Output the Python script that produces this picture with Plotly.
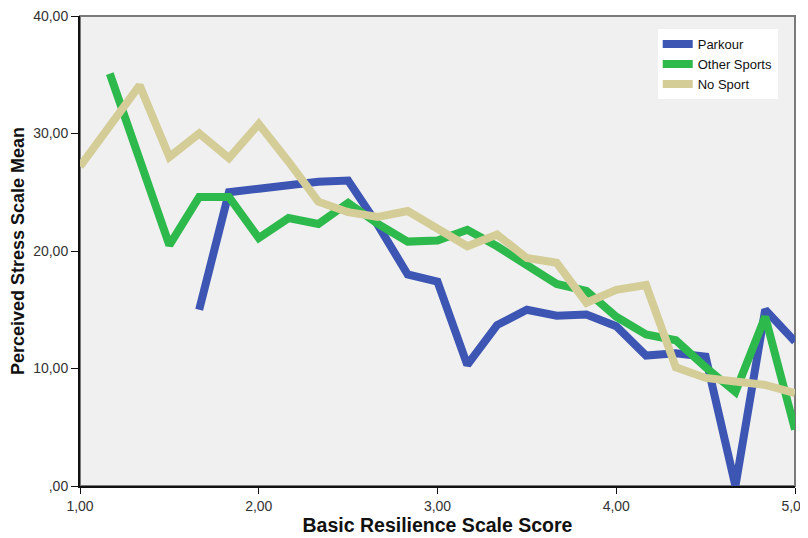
import plotly.graph_objects as go

# Basic Resilience Scale score (steps of 1/6)
brs_scores = [1.0, 1.1667, 1.3333, 1.5, 1.6667, 1.8333, 2.0, 2.1667, 2.3333, 2.5,
              2.6667, 2.8333, 3.0, 3.1667, 3.3333, 3.5, 3.6667, 3.8333, 4.0,
              4.1667, 4.3333, 4.5, 4.6667, 4.8333, 5.0]

parkour = [None, None, None, None, 15.0, 25.0, 25.3, 25.6, 25.9, 26.0,
           22.2, 18.0, 17.4, 10.3, 13.7, 15.0, 14.5, 14.6, 13.6,
           11.1, 11.3, 11.0, 0.0, 15.0, 12.3]

other_sports = [None, 35.1, 27.7, 20.5, 24.6, 24.6, 21.1, 22.8, 22.3, 24.1,
                22.3, 20.8, 20.9, 21.8, 20.4, 18.8, 17.2, 16.6, 14.4,
                12.9, 12.4, 10.1, 8.0, 14.4, 4.8]

no_sport = [27.2, 30.6, 34.1, 28.0, 30.0, 27.9, 30.8, 27.6, 24.2, 23.3,
            22.9, 23.4, 21.9, 20.4, 21.4, 19.4, 19.0, 15.6, 16.7,
            17.1, 10.1, 9.2, 8.9, 8.6, 7.9]

series_names = ["Parkour", "Other Sports", "No Sport"]
series_colors = ["#3D55B3", "#2DB94B", "#D5CD98"]

x_tick_vals = [1, 2, 3, 4, 5]
x_tick_text = ["1,00", "2,00", "3,00", "4,00", "5,00"]
y_tick_vals = [0, 10, 20, 30, 40]
y_tick_text = [",00", "10,00", "20,00", "30,00", "40,00"]

FONT = "Arial, 'Liberation Sans', sans-serif"

fig = go.Figure()
for name, vals, col in zip(series_names, [parkour, other_sports, no_sport], series_colors):
    fig.add_trace(go.Scatter(
        x=brs_scores, y=vals, mode="lines", name=name,
        line=dict(color=col, width=8), connectgaps=False,
    ))

# page body has an 8px margin, so the figure is sized/margined to compensate
fig.update_layout(
    width=800, height=530,
    margin=dict(l=72, r=13, t=8, b=52),
    paper_bgcolor="white",
    plot_bgcolor="#F0F0F0",
    font=dict(family=FONT, size=14, color="#222222"),
    showlegend=True,
    legend=dict(
        x=0.808, y=0.972, xanchor="left", yanchor="top",
        bgcolor="white", borderwidth=0,
        font=dict(family=FONT, size=13, color="#111111"),
        tracegroupgap=0, itemwidth=30,
    ),
    xaxis=dict(
        range=[1, 5], tickvals=x_tick_vals, ticktext=x_tick_text,
        showgrid=False, zeroline=False,
        showline=True, linecolor="#111111", linewidth=2,
        ticks="outside", ticklen=6, tickcolor="#111111", tickwidth=1,
        tickfont=dict(size=14, color="#333333"),
        ticklabeloverflow="allow",
        title=dict(text="<b>Basic Resilience Scale Score</b>",
                   font=dict(size=19.5, color="#111111"), standoff=4),
        automargin=False, fixedrange=True,
    ),
    yaxis=dict(
        range=[0, 40], tickvals=y_tick_vals, ticktext=y_tick_text,
        showgrid=False, zeroline=False,
        showline=True, linecolor="#111111", linewidth=2,
        ticks="outside", ticklen=7, tickcolor="#111111", tickwidth=1,
        tickfont=dict(size=14, color="#333333"),
        ticklabeloverflow="allow",
        title=dict(text="<b>Perceived Stress Scale Mean</b>",
                   font=dict(size=18, color="#111111"), standoff=6),
        automargin=False, fixedrange=True,
    ),
    shapes=[dict(type="rect", xref="paper", yref="paper", x0=0, x1=1, y0=0, y1=1,
                 line=dict(color="#7A7A7A", width=2), layer="below")],
)

fig.write_html("out.html")
